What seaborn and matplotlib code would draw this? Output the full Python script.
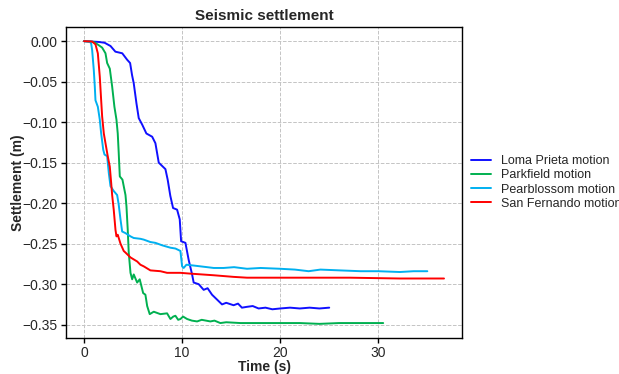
import matplotlib
matplotlib.use("Agg")
import matplotlib.pyplot as plt
from matplotlib.ticker import MultipleLocator
import seaborn as sns
import pandas as pd

# Settlement histories (time in s, settlement in m) for each input motion
loma_t = [0, 1.5, 2.1, 2.7, 3.2, 3.9, 4.4, 4.7, 4.9, 5.07, 5.35, 5.58, 5.93, 6.36, 6.95,
          7.28, 7.62, 8.3, 8.53, 8.8, 9.08, 9.49, 9.76, 9.9, 10.34, 10.67, 11.02, 11.18,
          11.69, 12.2, 12.6, 13.05, 13.56, 14.07, 14.5, 15.25, 15.7, 16.1, 16.6, 17.2,
          17.8, 18.5, 19.2, 20.0, 21.0, 22.0, 23.0, 24.0, 25.0]
loma_s = [0, -0.001, -0.002, -0.006, -0.013, -0.015, -0.023, -0.027, -0.042, -0.052,
          -0.077, -0.095, -0.103, -0.114, -0.118, -0.126, -0.150, -0.158, -0.171, -0.191,
          -0.206, -0.208, -0.220, -0.247, -0.249, -0.270, -0.288, -0.298, -0.300, -0.307,
          -0.305, -0.313, -0.319, -0.325, -0.323, -0.326, -0.324, -0.329, -0.328, -0.327,
          -0.330, -0.329, -0.331, -0.330, -0.329, -0.330, -0.329, -0.330, -0.329]

park_t = [0, 1.0, 1.5, 1.85, 2.19, 2.36, 2.63, 2.87, 3.1, 3.31, 3.44, 3.54, 3.65, 3.92,
          4.05, 4.23, 4.33, 4.4, 4.46, 4.56, 4.74, 4.91, 5.07, 5.42, 5.68, 6.03, 6.26,
          6.44, 6.7, 7.11, 7.79, 8.47, 8.81, 9.1, 9.32, 9.6, 9.83, 10.1, 10.51, 11.0,
          11.53, 12.0, 12.88, 13.3, 13.9, 14.5, 15.94, 17.97, 20.0, 22.0, 24.0, 26.0,
          28.0, 30.5]
park_s = [0, -0.001, -0.005, -0.008, -0.015, -0.027, -0.034, -0.056, -0.081, -0.097,
          -0.114, -0.138, -0.167, -0.171, -0.179, -0.190, -0.204, -0.220, -0.233, -0.261,
          -0.286, -0.294, -0.288, -0.298, -0.294, -0.311, -0.313, -0.327, -0.337, -0.334,
          -0.337, -0.336, -0.343, -0.340, -0.339, -0.344, -0.343, -0.340, -0.343, -0.345,
          -0.346, -0.344, -0.346, -0.345, -0.348, -0.347, -0.348, -0.348, -0.348, -0.348,
          -0.349, -0.348, -0.348, -0.348]

pear_t = [0, 0.59, 0.73, 0.83, 1.0, 1.1, 1.17, 1.41, 1.61, 1.75, 1.96, 2.09, 2.36, 2.53,
          2.7, 3.03, 3.38, 3.54, 3.72, 3.89, 4.23, 4.74, 5.07, 5.75, 6.09, 6.77, 7.28,
          7.96, 8.81, 9.32, 9.83, 10.0, 10.16, 10.44, 11.18, 11.86, 12.55, 13.22, 14.24,
          15.3, 16.62, 18.0, 20.0, 21.5, 22.9, 24.1, 26.1, 28.2, 30.0, 32.2, 33.6, 35.0]
pear_s = [0, -0.0005, -0.003, -0.011, -0.036, -0.056, -0.073, -0.081, -0.097, -0.114,
          -0.134, -0.140, -0.142, -0.163, -0.179, -0.185, -0.190, -0.202, -0.220, -0.235,
          -0.237, -0.241, -0.243, -0.244, -0.245, -0.248, -0.249, -0.252, -0.255, -0.256,
          -0.259, -0.278, -0.280, -0.276, -0.277, -0.278, -0.279, -0.280, -0.280, -0.279,
          -0.281, -0.280, -0.281, -0.282, -0.284, -0.282, -0.283, -0.284, -0.284, -0.285,
          -0.284, -0.284]

sanf_t = [0, 0.83, 1.17, 1.41, 1.61, 1.75, 1.85, 2.02, 2.19, 2.42, 2.63, 2.77, 2.87,
          3.03, 3.21, 3.31, 3.44, 3.72, 4.05, 4.23, 4.74, 5.42, 5.75, 6.09, 6.77, 7.79,
          8.47, 9.14, 9.83, 10.85, 13.22, 15.25, 16.62, 20.0, 23.07, 27.1, 32.2, 36.7]
sanf_s = [0, -0.0005, -0.004, -0.015, -0.044, -0.073, -0.093, -0.114, -0.126, -0.142,
          -0.155, -0.175, -0.190, -0.208, -0.233, -0.241, -0.239, -0.250, -0.259, -0.261,
          -0.267, -0.272, -0.276, -0.278, -0.283, -0.284, -0.286, -0.286, -0.286, -0.287,
          -0.289, -0.291, -0.292, -0.292, -0.292, -0.292, -0.293, -0.293]

motions = ["Loma Prieta motion", "Parkfield motion", "Pearblossom motion", "San Fernando motion"]
colors = ["#1010ff", "#00b050", "#00b0f0", "#ff0000"]

series = [(loma_t, loma_s), (park_t, park_s), (pear_t, pear_s), (sanf_t, sanf_s)]
df = pd.concat(
    [pd.DataFrame({"time": t, "settlement": s, "motion": name})
     for name, (t, s) in zip(motions, series)],
    ignore_index=True,
)

sns.set_style("ticks")
plt.rcParams["font.family"] = ["Liberation Sans", "DejaVu Sans"]

fig = plt.figure(figsize=(6.19, 3.74), dpi=100)
ax = fig.add_axes([66 / 619, 1 - 338 / 374, (462 - 66) / 619, (338 - 27) / 374])

sns.lineplot(data=df, x="time", y="settlement", hue="motion", hue_order=motions,
             palette=colors, sort=False, estimator=None, linewidth=1.4, ax=ax)

ax.xaxis.set_major_locator(MultipleLocator(10))
ax.yaxis.set_major_locator(MultipleLocator(0.05))
ax.grid(True, linestyle="--", color="#c4c4c4", linewidth=0.7)
ax.set_axisbelow(True)
for sp in ax.spines.values():
    sp.set_color("black")
    sp.set_linewidth(1.0)
ax.tick_params(axis="both", labelsize=10, length=3.5, width=1, pad=2.5, color="black")

ax.set_title("Seismic settlement", fontsize=11, fontweight="bold", pad=5)
ax.set_xlabel("Time (s)", fontsize=10, fontweight="bold", labelpad=0)
ax.set_ylabel("Settlement (m)", fontsize=10, fontweight="bold")
ax.yaxis.set_label_coords(-0.104, 0.5)

ax.legend(loc="center left", bbox_to_anchor=(1.0, 0.5), frameon=False, fontsize=9,
          handlelength=1.6, handletextpad=0.8, labelspacing=0.18, borderaxespad=0.3)

fig.savefig("out.png", dpi=100)
